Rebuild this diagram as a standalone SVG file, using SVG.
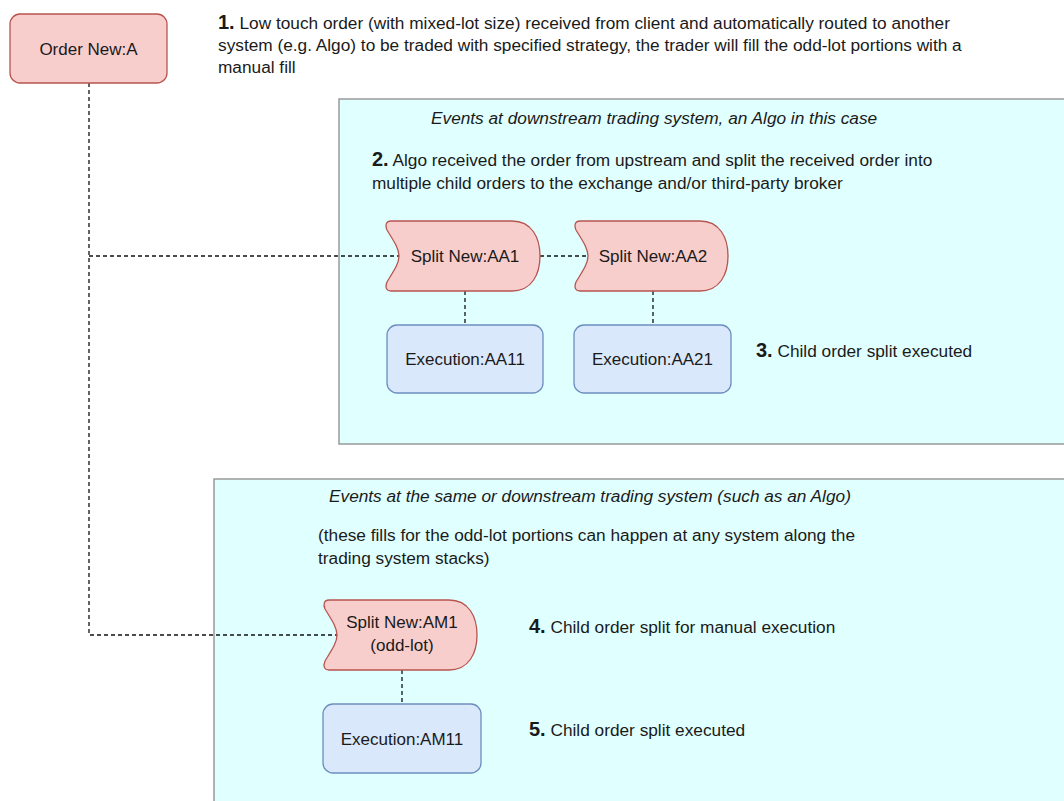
<svg xmlns="http://www.w3.org/2000/svg" width="1064" height="801" viewBox="0 0 1064 801">
<style>
text{font-family:"Liberation Sans",Arial,sans-serif;fill:#1a1a1a;}
.lbl{font-size:17px;text-anchor:middle;}
.body{font-size:17.25px;}
.num{font-size:20px;font-weight:bold;}
.it{font-size:17.25px;font-style:italic;}
.red{fill:#f8cecc;stroke:#b85450;stroke-width:1.3;}
.blue{fill:#dae8fc;stroke:#6c8ebf;stroke-width:1.3;}
.cont{fill:#e0ffff;stroke:#999999;stroke-width:1.5;}
.conn{fill:none;stroke:#111;stroke-width:1.3;stroke-dasharray:4 3;}
</style>
<rect width="1064" height="801" fill="#ffffff"/>
<g id="container-top"><rect class="cont" x="339" y="99" width="740" height="345"/></g>
<g id="container-bottom"><rect class="cont" x="214" y="479" width="865" height="340"/></g>
<g id="connectors">
<path class="conn" d="M89,83 V635 H337"/>
<path class="conn" d="M89,256 H399"/>
<path class="conn" d="M540,256 H588"/>
<path class="conn" d="M465,291 V325"/>
<path class="conn" d="M653,291 V325"/>
<path class="conn" d="M402,670 V704"/>
</g>
<g id="order-new-a"><rect class="red" x="10" y="14" width="157" height="69" rx="10"/><text class="lbl" x="88.5" y="55">Order New:A</text></g>
<g id="split-aa1"><path class="red" d="M391,221 L512,221 C532,221 540,238 540,256 C540,274 532,291 512,291 L391,291 C386,291 385,287 387,282 C393,272 399,264 399,256 C399,248 393,240 387,230 C385,225 386,221 391,221 Z"/><text class="lbl" x="465" y="262">Split New:AA1</text></g>
<g id="split-aa2"><path class="red" d="M580,221 L700,221 C720,221 728,238 728,256 C728,274 720,291 700,291 L580,291 C575,291 574,287 576,282 C582,272 588,264 588,256 C588,248 582,240 576,230 C574,225 575,221 580,221 Z"/><text class="lbl" x="653" y="262">Split New:AA2</text></g>
<g id="exec-aa11"><rect class="blue" x="387" y="325" width="156" height="68" rx="10"/><text class="lbl" x="465" y="365">Execution:AA11</text></g>
<g id="exec-aa21"><rect class="blue" x="574" y="325" width="157" height="68" rx="10"/><text class="lbl" x="652.5" y="365">Execution:AA21</text></g>
<g id="split-am1"><path class="red" d="M329,600 L449,600 C469,600 477,617 477,635 C477,653 469,670 449,670 L329,670 C324,670 323,666 325,661 C331,651 337,643 337,635 C337,627 331,619 325,609 C323,604 324,600 329,600 Z"/><text class="lbl" x="402" y="628">Split New:AM1</text><text class="lbl" x="402" y="651">(odd-lot)</text></g>
<g id="exec-am11"><rect class="blue" x="323" y="704" width="158" height="69" rx="10"/><text class="lbl" x="402" y="745">Execution:AM11</text></g>
<g id="note-1"><text x="218" y="29"><tspan class="num">1.</tspan><tspan class="body"> Low touch order (with mixed-lot size) received from client and automatically routed to another</tspan></text><text class="body" x="218" y="51">system (e.g. Algo) to be traded with specified strategy, the trader will fill the odd-lot portions with a</text><text class="body" x="218" y="73">manual fill</text></g>
<g id="note-top-header"><text class="it" x="431" y="124">Events at downstream trading system, an Algo in this case</text></g>
<g id="note-2"><text x="372" y="166"><tspan class="num">2.</tspan><tspan class="body"> Algo received the order from upstream and split the received order into</tspan></text><text class="body" x="372" y="189">multiple child orders to the exchange and/or third-party broker</text></g>
<g id="note-3"><text x="756" y="357"><tspan class="num">3.</tspan><tspan class="body"> Child order split executed</tspan></text></g>
<g id="note-bottom-header"><text class="it" x="329" y="502">Events at the same or downstream trading system (such as an Algo)</text><text class="body" x="318" y="541">(these fills for the odd-lot portions can happen at any system along the</text><text class="body" x="318" y="564">trading system stacks)</text></g>
<g id="note-4"><text x="529" y="633"><tspan class="num">4.</tspan><tspan class="body"> Child order split for manual execution</tspan></text></g>
<g id="note-5"><text x="529" y="736"><tspan class="num">5.</tspan><tspan class="body"> Child order split executed</tspan></text></g>
</svg>
